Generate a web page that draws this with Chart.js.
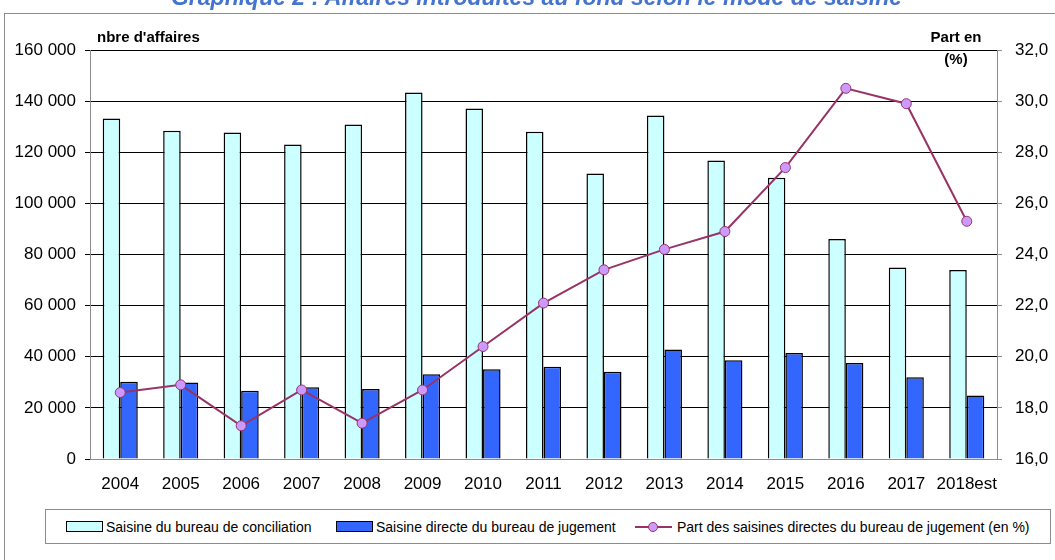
<!DOCTYPE html>
<html>
<head>
<meta charset="utf-8">
<script src="https://cdn.jsdelivr.net/npm/chart.js@4/dist/chart.umd.min.js"></script>
<style>
  html, body { margin:0; padding:0; background:#fff; }
  #wrap { position:relative; width:1055px; height:560px; overflow:hidden; font-family:"Liberation Sans", Arial, sans-serif; }
  #frame { position:absolute; left:4px; top:13px; width:1100px; height:600px; border:1px solid #8c8c8c; }
  #title { position:absolute; left:0; width:1073px; top:-14px; text-align:center; font:italic bold 23px/23px "Liberation Sans", Arial, sans-serif; color:#4674CC; white-space:nowrap; }
  canvas { position:absolute; left:0; top:0; }
  #legend { position:absolute; left:45px; top:509px; width:1004px; height:33px; border:1px solid #8c8c8c; background:#fff; font-size:14px; color:#000; }
  .item { position:absolute; top:0; height:33px; display:flex; align-items:center; white-space:nowrap; }
  .box { width:35px; height:9px; border:1px solid #000; margin-right:3px; }
  .lm { position:relative; width:37px; height:12px; margin-right:5px; }
  .lm .ln { position:absolute; left:0; right:0; top:5px; height:2px; background:#993366; }
  .lm .pt { position:absolute; left:13px; top:1px; width:8px; height:8px; border-radius:50%; background:#CC99FF; border:1px solid #993366; }
</style>
</head>
<body>
<div id="wrap">
  <div id="frame"></div>
  <canvas id="c" width="1055" height="560"></canvas>
  <div id="title">Graphique 2 : Affaires introduites au fond selon le mode de saisine</div>
  <div id="legend">
    <div class="item" style="left:20px"><div class="box" style="background:#CCFFFF"></div><span>Saisine du bureau de conciliation</span></div>
    <div class="item" style="left:290px"><div class="box" style="background:#3366FF"></div><span>Saisine directe du bureau de jugement</span></div>
    <div class="item" style="left:589px"><div class="lm"><div class="ln"></div><div class="pt"></div></div><span>Part des saisines directes du bureau de jugement (en %)</span></div>
  </div>
</div>
<script>
const categories = ["2004","2005","2006","2007","2008","2009","2010","2011","2012","2013","2014","2015","2016","2017","2018est"];
const conciliation = [133200,128400,127700,123000,130900,143400,137100,128000,111700,134400,116800,110000,86100,74900,73900];
const jugementDirect = [30200,29900,26700,28100,27400,33200,35100,36100,34100,42800,38600,41500,37600,32000,24800];
const partDirect = [18.6,18.9,17.3,18.7,17.4,18.7,20.4,22.1,23.4,24.2,24.9,27.4,30.5,29.9,25.3];
const leftTicks = [0,20000,40000,60000,80000,100000,120000,140000,160000];
const rightTicks = [16,18,20,22,24,26,28,30,32];

const FONT = "'Liberation Sans', Arial, sans-serif";

const axisTitles = {
  id:'axisTitles',
  afterDraw(chart){
    const ctx = chart.ctx;
    ctx.save();
    ctx.fillStyle = '#000';
    ctx.font = 'bold 15px ' + FONT;
    ctx.textBaseline = 'alphabetic';
    ctx.textAlign = 'left';
    ctx.fillText("nbre d'affaires", 97, 42);
    ctx.textAlign = 'center';
    ctx.fillText("Part en", 956, 42);
    ctx.fillText("(%)", 956, 64);
    ctx.restore();
  }
};

new Chart(document.getElementById('c'), {
  data: {
    labels: categories,
    datasets: [
      { type:'line', label:'Part des saisines directes du bureau de jugement (en %)', data: partDirect, yAxisID:'y1',
        borderColor:'#993366', borderWidth:2, backgroundColor:'#CC99FF', pointBackgroundColor:'#CC99FF',
        pointBorderColor:'#993366', pointBorderWidth:1, pointRadius:5, tension:0, order:0 },
      { type:'bar', label:'Saisine du bureau de conciliation', data: conciliation, yAxisID:'y',
        backgroundColor:'#CCFFFF', borderColor:'#000', borderWidth:1.5, barPercentage:1, categoryPercentage:0.58, order:1 },
      { type:'bar', label:'Saisine directe du bureau de jugement', data: jugementDirect, yAxisID:'y',
        backgroundColor:'#3366FF', borderColor:'#000', borderWidth:1.5, barPercentage:1, categoryPercentage:0.58, order:1 }
    ]
  },
  options: {
    responsive:false, animation:false, devicePixelRatio:1,
    layout:{ padding:{ top:50, bottom:50, left:0, right:0 } },
    plugins:{ legend:{ display:false }, title:{ display:false }, tooltip:{ enabled:false } },
    scales:{
      x:{ offset:true, grid:{ display:false, drawTicks:false }, border:{ color:'#8c8c8c', width:1 },
          ticks:{ color:'#000', font:{ family:FONT, size:17 }, padding:15, maxRotation:0, autoSkip:false },
          afterFit(s){ s.height = 51; } },
      y:{ position:'left', min:0, max:160000,
          afterBuildTicks(s){ s.ticks = leftTicks.map(v=>({value:v})); },
          ticks:{ color:'#000', font:{ family:FONT, size:17 }, padding:9,
                  callback:v=> String(v).replace(/\B(?=(\d{3})+(?!\d))/g,' ') },
          grid:{ color:'#000', lineWidth:1, tickLength:5 }, border:{ color:'#8c8c8c', width:1 },
          afterFit(s){ s.width = 90; } },
      y1:{ position:'right', min:16, max:32,
          afterBuildTicks(s){ s.ticks = rightTicks.map(v=>({value:v})); },
          ticks:{ color:'#000', font:{ family:FONT, size:17 }, padding:13,
                  callback:v=> v.toFixed(1).replace('.',',') },
          grid:{ drawOnChartArea:false, color:'#8c8c8c', tickLength:5 }, border:{ color:'#8c8c8c', width:1 },
          afterFit(s){ s.width = 58; } }
    }
  },
  plugins:[axisTitles]
});
</script>
</body>
</html>
